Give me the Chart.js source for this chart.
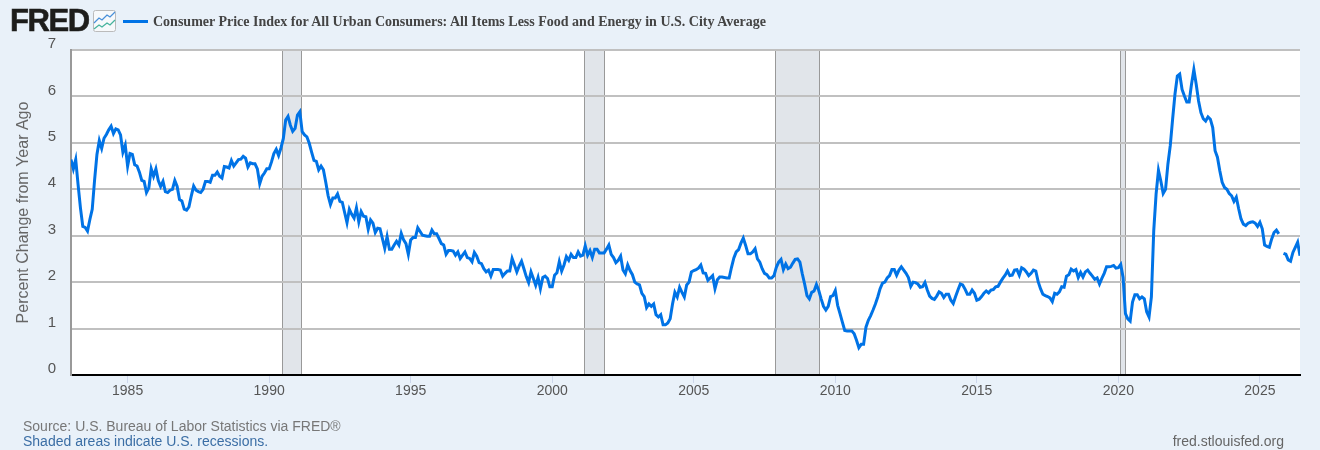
<!DOCTYPE html>
<html>
<head>
  <title>Core CPI, percent change from year ago</title>
  <script src="https://cdn.jsdelivr.net/npm/chart.js"></script>
  <style>
    body { margin: 0; background: #e9f1f9; overflow: hidden; width: 1320px; height: 450px; position: relative; font-family: "Liberation Sans", Arial, sans-serif; }
    canvas { position: absolute; left: 0; top: 0; }
    .logo { position: absolute; left: 10px; top: 3px; font-size: 31px; line-height: 36px; font-weight: bold; color: #1d1d1b; letter-spacing: -1.4px; -webkit-text-stroke: 0.6px #1d1d1b; }
    .icon { position: absolute; left: 93px; top: 10px; }
    .swatch { position: absolute; left: 123px; top: 20px; width: 25px; height: 3px; background: #0073e6; }
    .title { position: absolute; left: 153px; top: 13px; font: bold 14px "Liberation Serif", serif; line-height: 17px; color: #444; white-space: nowrap; }
    .note { position: absolute; font-size: 14px; line-height: 15px; white-space: nowrap; }
  </style>
</head>
<body>
  <canvas id="myChart" width="1320" height="450"></canvas>

  <div class="logo">FRED</div>
  <svg class="icon" width="23" height="22" viewBox="0 0 23 22">
    <rect x="0.5" y="0.5" width="22" height="21" rx="2" fill="#f7f9fb" stroke="#bbb"/>
    <polyline points="1,13 6,8 9,10 14,5 17,7 22,2" fill="none" stroke="#4a90d9" stroke-width="1.3"/>
    <polyline points="1,19 6,15 9,17 14,13 17,15 22,10" fill="none" stroke="#46b39d" stroke-width="1.3"/>
  </svg>
  <div class="swatch"></div>
  <div class="title">Consumer Price Index for All Urban Consumers: All Items Less Food and Energy in U.S. City Average</div>

  <div class="note" style="left:23px; top:419px; color:#777;">Source: U.S. Bureau of Labor Statistics via FRED®</div>
  <div class="note" style="left:23px; top:434px; color:#3b6ea5;">Shaded areas indicate U.S. recessions.</div>
  <div class="note" style="right:36px; top:434px; color:#666;">fred.stlouisfed.org</div>

  <script>
    // monthly readings, first point is the left edge of the plot
    const firstYear = 1983;
    const values1983to1989 = [
      4.64, 4.44, 4.64, 4.10, 3.60, 3.20, 3.18, 3.10, 3.35, 3.57, 4.20, 4.75,
      5.05, 4.88, 5.10, 5.18, 5.28, 5.36, 5.20, 5.30, 5.28, 5.17, 4.80, 4.95,
      4.50, 4.77, 4.75, 4.53, 4.50, 4.37, 4.19, 4.17, 3.93, 4.03, 4.44, 4.28,
      4.44, 4.19, 4.06, 4.17, 3.95, 3.93, 3.98, 4.00, 4.19, 4.06, 3.78, 3.75,
      3.57, 3.55, 3.62, 3.86, 4.07, 3.98, 3.95, 3.93, 4.00, 4.17, 4.17, 4.15,
      4.30, 4.30, 4.37, 4.28, 4.24, 4.49, 4.48, 4.46, 4.62, 4.50, 4.57, 4.64,
      4.65, 4.71, 4.67, 4.48, 4.57, 4.55, 4.55, 4.44, 4.12, 4.28, 4.35, 4.44
    ];
    const values1990to1999 = [
      4.44, 4.59, 4.77, 4.86, 4.73, 4.89, 5.09, 5.49, 5.57, 5.38, 5.25, 5.31,
      5.60, 5.67, 5.24, 5.17, 5.13, 4.99, 4.80, 4.62, 4.60, 4.42, 4.50, 4.42,
      4.15, 3.86, 3.67, 3.81, 3.81, 3.90, 3.74, 3.72, 3.50, 3.28, 3.57, 3.46,
      3.38, 3.60, 3.30, 3.52, 3.42, 3.41, 3.14, 3.34, 3.27, 3.07, 3.16, 3.15,
      2.94, 2.73, 2.98, 2.71, 2.71, 2.80, 2.88, 2.80, 3.05, 2.91, 2.83, 2.60,
      2.91, 2.96, 2.96, 3.17, 3.09, 3.01, 3.00, 2.99, 2.99, 3.12, 3.04, 3.04,
      2.94, 2.83, 2.80, 2.60, 2.68, 2.68, 2.67, 2.58, 2.65, 2.51, 2.58, 2.65,
      2.53, 2.51, 2.44, 2.64, 2.56, 2.42, 2.40, 2.29, 2.22, 2.26, 2.13, 2.27,
      2.27, 2.27, 2.26, 2.13, 2.19, 2.24, 2.24, 2.51, 2.37, 2.22, 2.35, 2.45,
      2.29, 2.12, 1.99, 2.22, 2.08, 1.93, 2.10, 1.86, 2.10, 2.13, 2.08, 1.90
    ];
    const values2000to2009 = [
      1.90, 2.15, 2.20, 2.44, 2.24, 2.37, 2.55, 2.47, 2.60, 2.53, 2.53, 2.65,
      2.56, 2.58, 2.78, 2.58, 2.68, 2.53, 2.71, 2.71, 2.63, 2.63, 2.63, 2.71,
      2.80, 2.60, 2.53, 2.42, 2.47, 2.56, 2.26, 2.18, 2.37, 2.25, 2.16, 2.00,
      1.96, 1.94, 1.76, 1.69, 1.45, 1.53, 1.48, 1.53, 1.30, 1.25, 1.30, 1.08,
      1.08, 1.12, 1.21, 1.53, 1.78, 1.68, 1.89, 1.78, 1.68, 1.94, 2.00, 2.22,
      2.25, 2.27, 2.30, 2.37, 2.20, 2.19, 2.04, 2.09, 2.14, 1.86, 2.05, 2.11,
      2.11, 2.10, 2.09, 2.09, 2.32, 2.52, 2.65, 2.70, 2.84, 2.95, 2.79, 2.61,
      2.61, 2.65, 2.72, 2.50, 2.43, 2.29, 2.19, 2.16, 2.09, 2.09, 2.14, 2.32,
      2.43, 2.49, 2.27, 2.39, 2.29, 2.32, 2.41, 2.49, 2.50, 2.43, 2.18, 1.96,
      1.71, 1.64, 1.78, 1.81, 1.95, 1.82, 1.64, 1.48, 1.40, 1.48, 1.69, 1.71
    ];
    const values2010to2019 = [
      1.82, 1.50, 1.32, 1.14, 0.96, 0.95, 0.95, 0.95, 0.89, 0.75, 0.59, 0.66,
      0.66, 1.03, 1.18, 1.28, 1.40, 1.53, 1.68, 1.86, 1.98, 2.00, 2.09, 2.14,
      2.27, 2.27, 2.15, 2.26, 2.33, 2.26, 2.19, 2.10, 1.91, 2.00, 1.99, 1.96,
      1.89, 1.90, 1.99, 1.83, 1.70, 1.65, 1.63, 1.70, 1.79, 1.76, 1.67, 1.74,
      1.74, 1.61, 1.54, 1.69, 1.83, 1.96, 1.94, 1.85, 1.74, 1.74, 1.83, 1.76,
      1.61, 1.63, 1.69, 1.76, 1.81, 1.77, 1.83, 1.84, 1.90, 1.91, 2.00,
      2.08, 2.15, 2.24, 2.14, 2.15, 2.26, 2.27, 2.15, 2.31, 2.28, 2.22, 2.14,
      2.19, 2.26, 2.24, 2.01, 1.86, 1.74, 1.71, 1.69, 1.66, 1.58, 1.76, 1.74,
      1.79, 1.90, 1.89, 2.13, 2.16, 2.28, 2.24, 2.27, 2.10, 2.21, 2.11, 2.22,
      2.26, 2.19, 2.13, 2.06, 2.09, 1.96, 2.08, 2.19, 2.33, 2.33, 2.34, 2.36
    ];
    const values2020on = [
      2.30, 2.31, 2.38, 2.10, 1.32, 1.21, 1.16, 1.57, 1.73, 1.73, 1.64, 1.68,
      1.64, 1.36, 1.25, 1.68, 3.11, 3.90, 4.41, 4.18, 3.91, 4.00, 4.54, 4.94,
      5.51, 6.05, 6.44, 6.48, 6.15, 6.01, 5.88, 5.88, 6.26, 6.58, 6.26, 5.90,
      5.65, 5.52, 5.47, 5.56, 5.51, 5.33, 4.83, 4.69, 4.40, 4.15, 4.04, 4.00,
      3.91, 3.86, 3.74, 3.83, 3.58, 3.36, 3.25, 3.22, 3.27, 3.29, 3.30, 3.27,
      3.20, 3.29, 3.15, 2.80, 2.77, 2.75, 2.93, 3.07, 3.12, 3.04, null,
      2.62, 2.60, 2.48, 2.45, 2.64, 2.75, 2.86, 2.57
    ];
    const yTicks = [0, 1, 2, 3, 4, 5, 6, 7];
    const xTicks = [1985, 1990, 1995, 2000, 2005, 2010, 2015, 2020, 2025];
    const recessionStarts = [1990.47, 2001.12, 2007.87, 2020.06];
    const recessionEnds = [1991.12, 2001.83, 2009.42, 2020.24];

    const coreValues = [].concat(values1983to1989, values1990to1999, values2000to2009, values2010to2019, values2020on);
    const points = coreValues.map((v, i) => ({ x: firstYear + i / 12, y: v }));

    // white plot area and recession bands go under the grid
    const recessionBands = {
      id: 'recessionBands',
      beforeDraw(chart) {
        const { ctx, chartArea: a, scales } = chart;
        ctx.save();
        ctx.fillStyle = '#fff';
        ctx.fillRect(a.left, a.top, a.width, a.height);
        recessionStarts.forEach((start, i) => {
          const x0 = Math.round(scales.x.getPixelForValue(start)) + 0.5;
          const x1 = Math.round(scales.x.getPixelForValue(recessionEnds[i])) + 0.5;
          ctx.fillStyle = '#e1e5ea';
          ctx.fillRect(x0, a.top, x1 - x0, a.height);
          ctx.strokeStyle = '#999';
          ctx.lineWidth = 1;
          ctx.beginPath();
          ctx.moveTo(x0, a.top);
          ctx.lineTo(x0, a.bottom);
          ctx.moveTo(x1, a.top);
          ctx.lineTo(x1, a.bottom);
          ctx.stroke();
        });
        ctx.restore();
      }
    };

    const ctx = document.getElementById('myChart').getContext('2d');
    const myChart = new Chart(ctx, {
      type: 'line',
      data: {
        datasets: [{
          data: points,
          borderColor: '#0073e6',
          borderWidth: 3,
          pointRadius: 0,
          tension: 0,
          spanGaps: false
        }]
      },
      plugins: [recessionBands],
      options: {
        responsive: false,
        animation: false,
        parsing: false,
        normalized: true,
        layout: { padding: { left: 0, right: 20, top: 50, bottom: 0 } },
        plugins: { legend: { display: false }, tooltip: { enabled: false } },
        scales: {
          x: {
            type: 'linear',
            min: firstYear,
            max: firstYear + (coreValues.length - 1) / 12,
            afterBuildTicks(axis) { axis.ticks = xTicks.map(v => ({ value: v })); },
            afterFit(axis) { axis.height = 75; },
            grid: { drawOnChartArea: false, tickColor: '#ccd6eb', tickLength: 8, tickWidth: 1 },
            border: { color: '#000', width: 2 },
            ticks: {
              autoSkip: false,
              maxRotation: 0,
              padding: 0,
              color: '#555',
              font: { family: '"Liberation Sans"', size: 14 },
              callback: v => String(v)
            }
          },
          y: {
            min: 0,
            max: 7,
            afterBuildTicks(axis) { axis.ticks = yTicks.map(v => ({ value: v })); },
            afterFit(axis) { axis.width = 71; },
            grid: { color: '#c0c0c0', lineWidth: 2, drawTicks: false },
            border: { color: '#999', width: 2 },
            title: {
              display: true,
              text: 'Percent Change from Year Ago',
              color: '#666',
              font: { family: '"Liberation Sans"', size: 16 },
              padding: { top: 14, bottom: 0 }
            },
            ticks: {
              padding: 15,
              labelOffset: -6,
              color: '#555',
              font: { family: '"Liberation Sans"', size: 15 },
              callback: v => String(v)
            }
          }
        }
      }
    });
  </script>
</body>
</html>
